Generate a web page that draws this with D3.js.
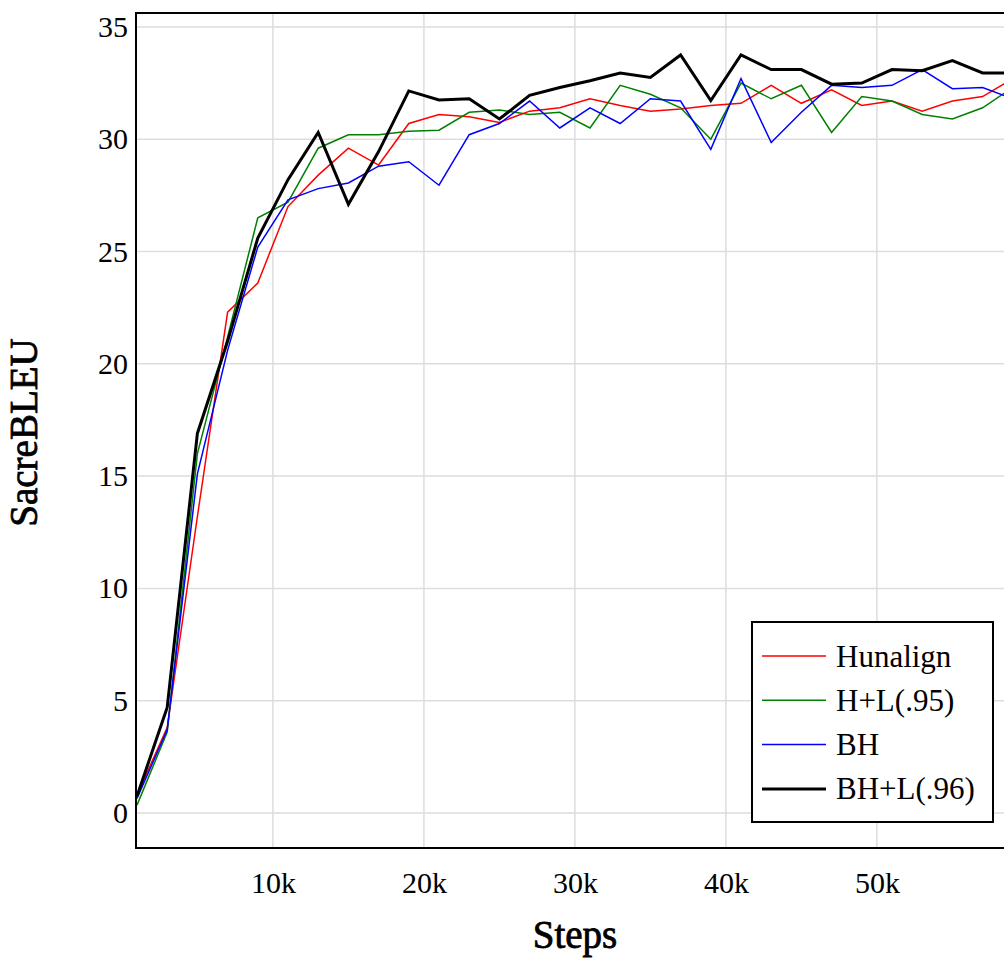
<!DOCTYPE html>
<html lang="en">
<head>
<meta charset="utf-8">
<title>SacreBLEU over steps</title>
<script src="https://d3js.org/d3.v7.min.js"></script>
<style>
    body { margin: 0; background: #fff; }
    text { font-family: "Liberation Serif", "Times New Roman", serif; fill: #000; }
</style>
</head>
<body>
<script>
// training steps (checkpoints every 2k)
var steps = [1000, 3000, 5000, 7000, 9000, 11000, 13000, 15000, 17000, 19000,
             21000, 23000, 25000, 27000, 29000, 31000, 33000, 35000, 37000, 39000,
             41000, 43000, 45000, 47000, 49000, 51000, 53000, 55000, 57000, 59000];

var hunalign = [0.8, 3.8, 13.2, 22.3, 23.6, 27.0, 28.4, 29.6, 28.85, 30.7,
                31.1, 31.0, 30.75, 31.25, 31.4, 31.8, 31.5, 31.25, 31.35, 31.5,
                31.6, 32.4, 31.6, 32.2, 31.5, 31.7, 31.25, 31.7, 31.9, 32.7];

var hL95 = [0.35, 3.6, 16.0, 21.2, 26.5, 27.2, 29.6, 30.2, 30.2, 30.35,
            30.4, 31.2, 31.3, 31.1, 31.2, 30.5, 32.4, 32.0, 31.4, 30.0,
            32.5, 31.8, 32.4, 30.3, 31.9, 31.7, 31.1, 30.9, 31.4, 32.3];

var bh = [0.65, 3.7, 15.1, 20.6, 25.2, 27.3, 27.8, 28.05, 28.8, 29.0,
          27.95, 30.2, 30.7, 31.7, 30.5, 31.4, 30.7, 31.8, 31.7, 29.55,
          32.7, 29.85, 31.2, 32.4, 32.3, 32.4, 33.1, 32.25, 32.3, 31.8];

var bhL96 = [0.75, 4.7, 16.9, 21.0, 25.6, 28.2, 30.3, 27.1, 29.45, 32.15,
             31.75, 31.8, 30.9, 31.95, 32.3, 32.6, 32.95, 32.75, 33.75, 31.72,
             33.75, 33.1, 33.1, 32.45, 32.5, 33.1, 33.05, 33.5, 32.95, 32.95];

var seriesNames = ["Hunalign", "H+L(.95)", "BH", "BH+L(.96)"];
var seriesColors = ["#ff0000", "#008000", "#0000ff", "#000000"];
var seriesWidths = [1.5, 1.5, 1.5, 3];
var xTicks = [10000, 20000, 30000, 40000, 50000];
var yTicks = [0, 5, 10, 15, 20, 25, 30, 35];

var allSeries = [hunalign, hL95, bh, bhL96];

var svg = d3.select("body").append("svg").attr("width", 1004).attr("height", 959);
var margin = {top: 13, left: 136};
var w = 878, h = 835;   // plot runs a bit past the right edge of the picture

var g = svg.append("g").attr("transform", "translate(" + margin.left + "," + margin.top + ")");

var x = d3.scaleLinear().domain([934, 59080]).range([0, w]);
var y = d3.scaleLinear().domain([-1.56, 35.62]).range([h, 0]);

// grid
g.append("g").selectAll("line").data(xTicks).enter().append("line")
    .attr("x1", function(d) { return x(d); }).attr("x2", function(d) { return x(d); })
    .attr("y1", 0).attr("y2", h)
    .attr("stroke", "#dddddd").attr("stroke-width", 1.5);
g.append("g").selectAll("line").data(yTicks).enter().append("line")
    .attr("x1", 0).attr("x2", w)
    .attr("y1", function(d) { return y(d); }).attr("y2", function(d) { return y(d); })
    .attr("stroke", "#dddddd").attr("stroke-width", 1.5);

// axes (labels only, no tick marks)
var xAxis = g.append("g")
    .attr("transform", "translate(0," + h + ")")
    .call(d3.axisBottom(x).tickValues(xTicks).tickSize(0).tickPadding(24)
        .tickFormat(function(d) { return (d / 1000) + "k"; }));
var yAxis = g.append("g")
    .call(d3.axisLeft(y).tickValues(yTicks).tickSize(0).tickPadding(8));
xAxis.select(".domain").remove();
yAxis.select(".domain").remove();
g.selectAll(".tick text").style("font-size", "30px").attr("font-family", null);

// lines
g.append("clipPath").attr("id", "clip")
    .append("rect").attr("width", w).attr("height", h);

var line = d3.line()
    .x(function(d, i) { return x(steps[i]); })
    .y(function(d) { return y(d); });

g.append("g").attr("clip-path", "url(#clip)")
    .selectAll("path").data(allSeries).enter().append("path")
    .attr("d", line)
    .attr("fill", "none")
    .attr("stroke", function(d, i) { return seriesColors[i]; })
    .attr("stroke-width", function(d, i) { return seriesWidths[i]; })
    .attr("stroke-linejoin", "miter");

// frame
g.append("rect").attr("width", w).attr("height", h)
    .attr("fill", "none").attr("stroke", "#000").attr("stroke-width", 2);

// axis titles (medium weight: regular face with a thin outline)
g.append("text")
    .attr("x", w / 2).attr("y", h + 100)
    .attr("text-anchor", "middle")
    .style("font-size", "39px")
    .attr("stroke", "#000").attr("stroke-width", 0.8)
    .text("Steps");
g.append("text")
    .attr("transform", "translate(" + (37 - margin.left) + "," + (h / 2 + 2) + ") rotate(-90)")
    .attr("text-anchor", "middle")
    .style("font-size", "39px")
    .attr("stroke", "#000").attr("stroke-width", 0.8)
    .text("SacreBLEU");

// legend
var lg = svg.append("g").attr("transform", "translate(752,622)");
lg.append("rect").attr("width", 241).attr("height", 200)
    .attr("fill", "#fff").attr("stroke", "#000").attr("stroke-width", 2);
var item = lg.selectAll(".item").data(seriesNames).enter().append("g")
    .attr("class", "item")
    .attr("transform", function(d, i) { return "translate(0," + (34 + i * 44.3) + ")"; });
item.append("line")
    .attr("x1", 10).attr("x2", 74)
    .attr("stroke", function(d, i) { return seriesColors[i]; })
    .attr("stroke-width", function(d, i) { return seriesWidths[i]; });
item.append("text")
    .attr("x", 84).attr("y", 0)
    .attr("dominant-baseline", "central")
    .style("font-size", "31px")
    .text(function(d) { return d; });
</script>
</body>
</html>
